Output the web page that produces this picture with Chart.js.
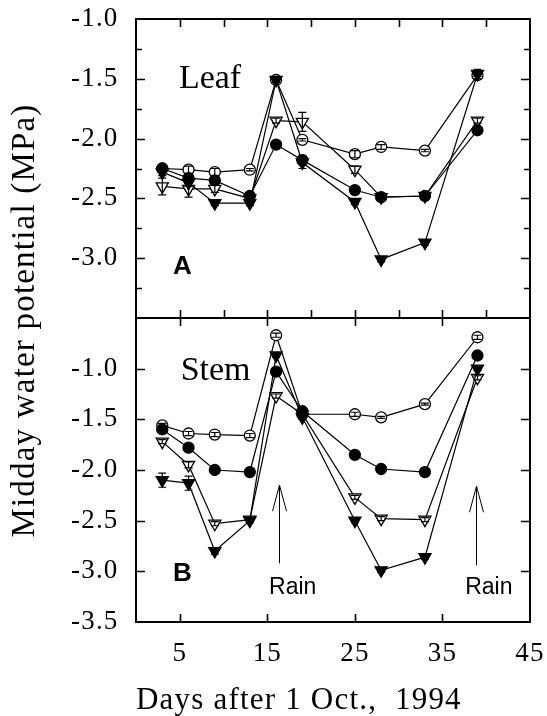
<!DOCTYPE html>
<html>
<head>
<meta charset="utf-8">
<script src="https://cdn.jsdelivr.net/npm/chart.js@4.4.1/dist/chart.umd.min.js"></script>
<style>
  html, body { margin: 0; padding: 0; background: #fff; }
  #wrap { width: 547px; height: 716px; }
</style>
</head>
<body>
<div id="wrap"><canvas id="chart" width="547" height="716"></canvas></div>
<script>
// Sampling days (days after 1 Oct. 1994)
const days = [3, 6, 9, 13, 16, 19, 25, 28, 33, 39];

// Panel A: leaf midday water potential (MPa)
const leafOpenCircle     = [-2.25, -2.26, -2.28, -2.26, -1.51, -2.01, -2.13, -2.07, -2.10, -1.47];
const leafFilledCircle   = [-2.25, -2.33, -2.35, -2.48, -2.05, -2.18, -2.43, -2.49, -2.48, -1.93];
const leafOpenTriangle   = [-2.40, -2.42, -2.42, -2.50, -1.85, -1.86, -2.26, -2.49, -2.48, -1.85];
const leafFilledTriangle = [-2.28, -2.37, -2.54, -2.54, -1.51, -2.20, -2.53, -3.01, -2.87, -1.46];

// Panel A: standard errors
const leafOpenCircleErr     = [0.02, 0.03, 0.03, 0.01, 0.01, 0.01, 0.03, 0.02, 0.01, 0.01];
const leafFilledCircleErr   = [0.02, 0.02, 0.02, 0.02, 0.02, 0.04, 0.02, 0.02, 0.02, 0.02];
const leafOpenTriangleErr   = [0.07, 0.07, 0.03, 0.02, 0.02, 0.08, 0.03, 0.02, 0.02, 0.02];
const leafFilledTriangleErr = [0.03, 0.03, 0.02, 0.02, 0.02, 0.05, 0.02, 0.02, 0.02, 0.04];

// Panel B: stem midday water potential (MPa)
const stemOpenCircle     = [-1.56, -1.64, -1.65, -1.66, -0.67, -1.45, -1.45, -1.48, -1.35, -0.69];
const stemFilledCircle   = [-1.60, -1.78, -2.00, -2.02, -1.03, -1.42, -1.85, -1.99, -2.02, -0.87];
const stemOpenTriangle   = [-1.72, -1.95, -2.53, -2.49, -1.27, -1.45, -2.27, -2.48, -2.49, -1.09];
const stemFilledTriangle = [-2.10, -2.13, -2.80, -2.50, -0.87, -1.48, -2.50, -2.99, -2.86, -1.00];

// Panel B: standard errors
const stemOpenCircleErr     = [0.02, 0.02, 0.02, 0.02, 0.02, 0.01, 0.02, 0.01, 0.01, 0.02];
const stemFilledCircleErr   = [0.02, 0.02, 0.02, 0.02, 0.02, 0.02, 0.02, 0.02, 0.02, 0.02];
const stemOpenTriangleErr   = [0.02, 0.03, 0.02, 0.02, 0.02, 0.02, 0.02, 0.02, 0.02, 0.02];
const stemFilledTriangleErr = [0.07, 0.07, 0.03, 0.02, 0.02, 0.02, 0.02, 0.02, 0.02, 0.02];

// Axis tick labels
const xTickLabels = [5, 15, 25, 35, 45];
const leafTickLabels = [-1.0, -1.5, -2.0, -2.5, -3.0];
const stemTickLabels = [-1.0, -1.5, -2.0, -2.5, -3.0, -3.5];

// Text placed in data space: [text, day, value, axis]
const panelNames = [['Leaf', 4.9, -1.577, 'yA'], ['Stem', 5.1, -1.11, 'yB']];
const panelLetters = [['A', 5.3, -3.135, 'yA'], ['B', 5.3, -3.094, 'yB']];
// Rain events: arrow day, arrow top, arrow bottom, label day, label value
const rainEvents = [[16.3, -2.15, -2.92, 17.9, -3.225], [38.8, -2.16, -2.94, 40.3, -3.225]];

const pts = arr => days.map((d, i) => ({ x: d, y: arr[i] }));

function series(values, errors, axis, filled, shape) {
  return {
    data: pts(values),
    errors: errors,
    yAxisID: axis,
    borderColor: '#000',
    borderWidth: 1.2,
    pointStyle: shape,
    pointRotation: shape === 'triangle' ? 180 : 0,
    pointRadius: shape === 'triangle' ? 7 : 5.5,
    pointBorderWidth: 1.3,
    pointBorderColor: '#000',
    pointBackgroundColor: filled ? '#000' : '#fff',
    tension: 0,
    fill: false
  };
}

// Earlier datasets are painted on top
const datasets = [
  series(leafFilledTriangle, leafFilledTriangleErr, 'yA', true, 'triangle'),
  series(leafFilledCircle, leafFilledCircleErr, 'yA', true, 'circle'),
  series(leafOpenTriangle, leafOpenTriangleErr, 'yA', false, 'triangle'),
  series(leafOpenCircle, leafOpenCircleErr, 'yA', false, 'circle'),
  series(stemFilledTriangle, stemFilledTriangleErr, 'yB', true, 'triangle'),
  series(stemFilledCircle, stemFilledCircleErr, 'yB', true, 'circle'),
  series(stemOpenTriangle, stemOpenTriangleErr, 'yB', false, 'triangle'),
  series(stemOpenCircle, stemOpenCircleErr, 'yB', false, 'circle')
];

const near = (a, b) => Math.abs(a - b) < 1e-6;
const fmt = v => v.toFixed(1);

// Slightly loose tracking for the axis lettering (scales are painted before the datasets)
const axisTracking = {
  id: 'axisTracking',
  beforeDraw(chart) { chart.ctx.letterSpacing = '1.2px'; },
  beforeDatasetsDraw(chart) { chart.ctx.letterSpacing = '0px'; }
};

// Error bars, inward tick marks, frame and panel annotations
const panelDecor = {
  id: 'panelDecor',
  afterDatasetsDraw(chart) {
    const ctx = chart.ctx;
    ctx.save();
    ctx.strokeStyle = '#000';
    ctx.lineWidth = 1.2;
    chart.data.datasets.forEach((ds, i) => {
      const meta = chart.getDatasetMeta(i);
      const ys = chart.scales[ds.yAxisID];
      meta.data.forEach((pt, j) => {
        const e = ds.errors[j];
        if (!e) return;
        const v = ds.data[j].y;
        const y1 = ys.getPixelForValue(v + e);
        const y2 = ys.getPixelForValue(v - e);
        ctx.beginPath();
        ctx.moveTo(pt.x, y1); ctx.lineTo(pt.x, y2);
        ctx.moveTo(pt.x - 4, y1); ctx.lineTo(pt.x + 4, y1);
        ctx.moveTo(pt.x - 4, y2); ctx.lineTo(pt.x + 4, y2);
        ctx.stroke();
      });
    });
    ctx.restore();
  },
  afterDraw(chart) {
    const ctx = chart.ctx;
    const xs = chart.scales.x, yA = chart.scales.yA, yB = chart.scales.yB;
    const L = chart.chartArea.left, R = chart.chartArea.right;
    ctx.save();
    ctx.letterSpacing = '0px';
    ctx.strokeStyle = '#000';

    // frame of both panels
    ctx.lineWidth = 2;
    ctx.strokeRect(L, yA.top, R - L, yB.bottom - yA.top);
    ctx.beginPath();
    ctx.moveTo(L, yA.bottom); ctx.lineTo(R, yA.bottom);
    ctx.stroke();

    // x ticks, pointing into each panel
    ctx.lineWidth = 1.6;
    ctx.beginPath();
    xs.ticks.forEach(t => {
      if (t.value <= xs.min || t.value >= xs.max) return;
      const px = Math.round(xs.getPixelForValue(t.value)) + 0.5;
      ctx.moveTo(px, yA.top); ctx.lineTo(px, yA.top + 8);
      ctx.moveTo(px, yA.bottom); ctx.lineTo(px, yA.bottom - 8);
      if (xTickLabels.includes(t.value)) {
        ctx.moveTo(px, yB.top); ctx.lineTo(px, yB.top + 8);
        ctx.moveTo(px, yB.bottom); ctx.lineTo(px, yB.bottom - 8);
      }
    });
    // y ticks on both sides
    [yA, yB].forEach(ys => {
      ys.ticks.forEach(t => {
        if (near(t.value, ys.min) || near(t.value, ys.max)) return;
        const major = near(t.value * 2, Math.round(t.value * 2));
        const len = major ? 9 : 6;
        const py = Math.round(ys.getPixelForValue(t.value)) + 0.5;
        ctx.moveTo(L, py); ctx.lineTo(L + len, py);
        ctx.moveTo(R, py); ctx.lineTo(R - len, py);
      });
    });
    ctx.stroke();

    // panel names
    ctx.fillStyle = '#000';
    ctx.textBaseline = 'alphabetic';
    ctx.textAlign = 'left';
    ctx.font = '34px "Liberation Serif"';
    panelNames.forEach(([txt, d, v, ax]) => {
      ctx.fillText(txt, xs.getPixelForValue(d), chart.scales[ax].getPixelForValue(v));
    });
    ctx.textAlign = 'center';
    ctx.font = 'bold 26px "Liberation Sans"';
    panelLetters.forEach(([txt, d, v, ax]) => {
      ctx.fillText(txt, xs.getPixelForValue(d), chart.scales[ax].getPixelForValue(v));
    });

    // rain arrows
    ctx.lineWidth = 1;
    ctx.font = '23px "Liberation Sans"';
    rainEvents.forEach(([d, top, bottom, ld, lv]) => {
      const px = Math.round(xs.getPixelForValue(d)) + 0.5;
      const pTop = yB.getPixelForValue(top);
      const pBot = yB.getPixelForValue(bottom);
      ctx.beginPath();
      ctx.moveTo(px, pBot); ctx.lineTo(px, pTop);
      ctx.moveTo(px - 7, pTop + 26); ctx.lineTo(px, pTop); ctx.lineTo(px + 7, pTop + 26);
      ctx.stroke();
      ctx.fillText('Rain', xs.getPixelForValue(ld), yB.getPixelForValue(lv));
    });
    ctx.restore();
  }
};

const yTickFont = { family: 'Liberation Serif', size: 27, lineHeight: 1.2 };
// tall line box pushes the day labels down below the axis
const xTickFont = { family: 'Liberation Serif', size: 27, lineHeight: 2.4 };

new Chart(document.getElementById('chart'), {
  type: 'line',
  data: { datasets },
  plugins: [axisTracking, panelDecor],
  options: {
    responsive: false,
    animation: false,
    devicePixelRatio: 1,
    events: [],
    layout: { padding: { left: 9, top: 19, right: 17, bottom: 0 } },
    plugins: { legend: { display: false }, tooltip: { enabled: false } },
    scales: {
      x: {
        type: 'linear',
        min: 0, max: 45,
        grid: { display: false, drawTicks: false },
        border: { display: false },
        ticks: {
          stepSize: 5, autoSkip: false, maxRotation: 0, padding: 0,
          color: '#000', font: xTickFont,
          callback: v => (xTickLabels.includes(v) ? String(v) : '')
        },
        title: {
          display: true, text: 'Days after 1 Oct.,  1994', align: 'start',
          color: '#000', font: { family: 'Liberation Serif', size: 31, lineHeight: 1 },
          padding: 0
        },
        afterFit: s => { s.height = 94; }
      },
      yT: {
        type: 'linear', position: 'left', weight: 3, min: 0, max: 1,
        grid: { display: false, drawTicks: false },
        border: { display: false },
        ticks: { display: false },
        title: {
          display: true, text: 'Midday water potential (MPa)',
          color: '#000', font: { family: 'Liberation Serif', size: 33, lineHeight: 1 },
          padding: 0
        },
        afterFit: s => { s.width = 62; }
      },
      yA: {
        type: 'linear', position: 'left', weight: 2,
        stack: 'panels', stackWeight: 299,
        min: -3.5, max: -1.0,
        grid: { display: false, drawTicks: false },
        border: { display: false },
        ticks: {
          stepSize: 0.25, padding: 0, crossAlign: 'far', color: '#000', font: yTickFont, autoSkip: false,
          callback: v => (leafTickLabels.some(l => near(l, v)) ? fmt(v) : '')
        },
        afterFit: s => { s.width = 65; }
      },
      yB: {
        type: 'linear', position: 'left', weight: 1,
        stack: 'panels', stackWeight: 304,
        min: -3.5, max: -0.5,
        grid: { display: false, drawTicks: false },
        border: { display: false },
        ticks: {
          stepSize: 0.5, padding: 0, crossAlign: 'far', color: '#000', font: yTickFont, autoSkip: false,
          callback: v => (stemTickLabels.some(l => near(l, v)) ? fmt(v) : '')
        },
        afterFit: s => { s.width = 65; }
      }
    }
  }
});
</script>
</body>
</html>
